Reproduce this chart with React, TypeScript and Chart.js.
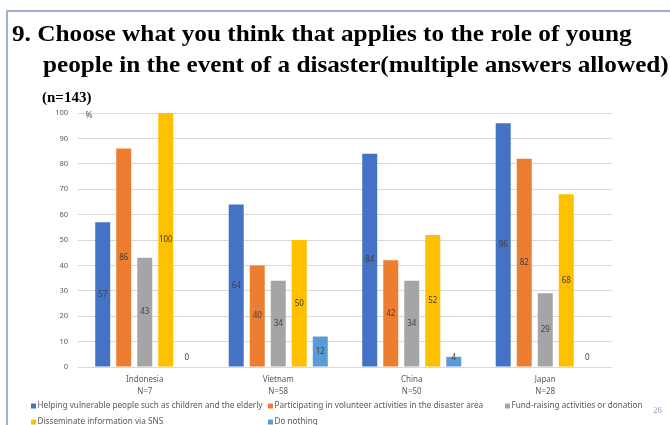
import React, { useEffect, useRef } from "react";
import { Chart, registerables } from "chart.js";

Chart.register(...registerables);

const categories = ["Indonesia", "Vietnam", "China", "Japan"];
const sampleSizes = ["N=7", "N=58", "N=50", "N=28"];
const seriesNames = [
  "Helping vulnerable people such as children and the elderly",
  "Participating in volunteer activities in the disaster area",
  "Fund-raising activities or donation",
  "Disseminate information via SNS",
  "Do nothing",
];
const helping = [57, 64, 84, 96];
const volunteer = [86, 40, 42, 82];
const fundraising = [43, 34, 34, 29];
const sns = [100, 50, 52, 68];
const nothing = [0, 12, 4, 0];
const yTicks = [0, 10, 20, 30, 40, 50, 60, 70, 80, 90, 100];

const colors = ["#4472C4", "#ED7D31", "#A5A5A5", "#FFC000", "#5B9BD5"];
const FONT = "'Noto Sans', sans-serif";
const TEXT = "#595959";

const extrasPlugin = {
  id: "extras",
  afterDatasetsDraw(chart: any) {
    const ctx = chart.ctx;
    ctx.save();
    ctx.font = `8px ${FONT}`;
    ctx.fillStyle = "#404040";
    ctx.textAlign = "center";
    ctx.textBaseline = "middle";
    chart.data.datasets.forEach((ds: any, i: number) => {
      const meta = chart.getDatasetMeta(i);
      meta.data.forEach((bar: any, j: number) => {
        const v = ds.data[j];
        const p = bar.getProps(["x", "y", "base"], true);
        const ly = Math.min((p.y + p.base) / 2, p.base - 9);
        ctx.fillText(String(v), p.x, ly);
      });
    });
    // percent sign
    const ca = chart.chartArea;
    ctx.fillStyle = TEXT;
    ctx.font = `8.5px ${FONT}`;
    ctx.fillText("%", ca.left + 11, ca.top + 2.5);
    ctx.restore();
  },
  afterDraw(chart: any) {
    const ctx = chart.ctx;
    ctx.save();
    ctx.font = `8.2px ${FONT}`;
    ctx.textAlign = "left";
    ctx.textBaseline = "middle";
    chart.data.datasets.forEach((ds: any, k: number) => {
      const col = k % 3;
      const row = Math.floor(k / 3);
      const x = 31 + col * 237;
      const y = 406 + row * 16;
      ctx.fillStyle = ds.backgroundColor;
      ctx.fillRect(x, y - 2.5, 5, 5);
      ctx.fillStyle = TEXT;
      ctx.fillText(ds.label, x + 6.5, y);
    });
    ctx.restore();
  },
};

function BarChart() {
  const ref = useRef<HTMLCanvasElement | null>(null);
  useEffect(() => {
    if (!ref.current) return;
    const series = [helping, volunteer, fundraising, sns, nothing];
    const chart = new Chart(ref.current, {
      type: "bar",
      data: {
        labels: categories.map((c, i) => [c, sampleSizes[i]]),
        datasets: series.map((d, i) => ({
          label: seriesNames[i],
          data: d,
          backgroundColor: colors[i],
          categoryPercentage: 0.787,
          barPercentage: 0.714,
        })),
      },
      options: {
        responsive: false,
        animation: false,
        devicePixelRatio: 1,
        layout: { padding: { left: 0, right: 58, top: 113, bottom: 0 } },
        plugins: {
          legend: { display: false },
          tooltip: { enabled: false },
          title: { display: false },
        },
        scales: {
          x: {
            grid: { display: false, drawTicks: false },
            border: { display: false },
            ticks: {
              color: TEXT,
              font: { family: FONT, size: 8, lineHeight: 1.5 },
              padding: 7,
              maxRotation: 0,
            },
            afterFit: (s: any) => {
              s.height = 58;
            },
          },
          y: {
            min: 0,
            max: 100,
            afterBuildTicks: (s: any) => {
              s.ticks = yTicks.map((v) => ({ value: v }));
            },
            grid: { color: "#D9D9D9", drawTicks: false, lineWidth: 1 },
            border: { display: false },
            ticks: {
              color: TEXT,
              font: { family: FONT, size: 7.5 },
              padding: 10,
            },
            afterFit: (s: any) => {
              s.width = 78;
            },
          },
        },
      },
      plugins: [extrasPlugin],
    });
    return () => chart.destroy();
  }, []);
  return (
    <canvas
      ref={ref}
      width={670}
      height={425}
      style={{ position: "absolute", left: 0, top: 0, width: 670, height: 425 }}
    />
  );
}

export default function App() {
  const titleStyle: React.CSSProperties = {
    position: "absolute",
    fontFamily: "'Liberation Serif', 'Times New Roman', serif",
    fontWeight: "bold",
    fontSize: 24,
    lineHeight: "24px",
    color: "#000",
    whiteSpace: "nowrap",
    zIndex: 2,
    transformOrigin: "left top",
  };
  return (
    <div
      style={{
        position: "fixed",
        left: 0,
        top: 0,
        width: 670,
        height: 425,
        overflow: "hidden",
        background: "#fff",
      }}
    >
      <div
        style={{
          position: "absolute",
          left: 6,
          top: 10,
          width: 680,
          height: 430,
          borderTop: "2px solid #9FB0D2",
          borderLeft: "2px solid #9FB0D2",
        }}
      />
      <BarChart />
      <div
        style={{
          ...titleStyle,
          left: 12,
          top: 21,
          transform: "scaleX(1.052)",
        }}
      >
        9. Choose what you think that applies to the role of young
      </div>
      <div
        style={{
          ...titleStyle,
          left: 43,
          top: 52,
          transform: "scaleX(1.05)",
        }}
      >
        people in the event of a disaster(multiple answers allowed)
      </div>
      <div
        style={{
          ...titleStyle,
          fontSize: 15,
          lineHeight: "15px",
          left: 42,
          top: 90,
        }}
      >
        (n=143)
      </div>
      <div
        style={{
          position: "absolute",
          left: 653,
          top: 405,
          fontFamily: "'Liberation Serif', serif",
          fontSize: 9,
          color: "#8EA3C8",
          zIndex: 2,
        }}
      >
        26
      </div>
    </div>
  );
}
